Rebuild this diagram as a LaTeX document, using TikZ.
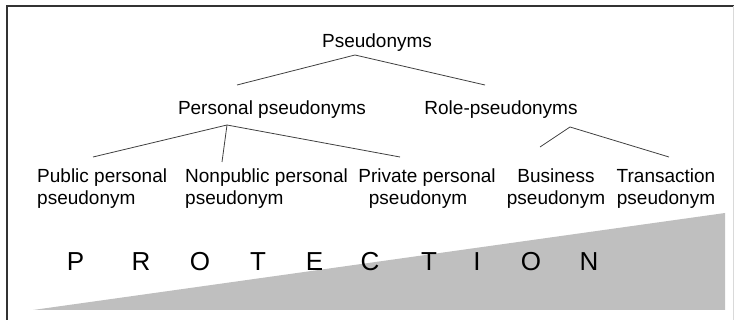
\documentclass[tikz,border=0pt]{standalone}
\usepackage{fontspec}
\setmainfont{Liberation Sans}
\begin{document}
\begin{tikzpicture}[x=1pt,y=-1pt,
  lbl/.style={inner sep=0pt, font=\fontsize{19}{22}\selectfont},
  prot/.style={inner sep=0pt, font=\fontsize{26}{26}\selectfont, anchor=base},
  conn/.style={draw=black!75, line width=0.8pt},
  frame/.style={draw=black!80, line width=1.4pt}]
\useasboundingbox (0,0) rectangle (734,320);
% frame
\draw[frame] (7,320) -- (7,6) -- (734,6);
\draw[black!15, line width=0.6pt] (733,6) -- (733,320);
% protection wedge
\fill[black!25] (33,310) -- (725,213) -- (725,310) -- cycle;
% labels
\node[lbl, anchor=base] (root) at (377,48) {Pseudonyms};
\node[lbl, anchor=base] (pers) at (272,115) {Personal pseudonyms};
\node[lbl, anchor=base] (role) at (501,115) {Role-pseudonyms};
\node[lbl, anchor=base west, align=left] (pub) at (37,205) {Public personal\\pseudonym};
\node[lbl, anchor=base west, align=left] (npub) at (185,205) {Nonpublic personal\\pseudonym};
\node[lbl, anchor=base, align=center] (priv) at (427,205) {Private personal\\pseudonym\hspace*{18pt}\null};
\node[lbl, anchor=base, align=center] (bus) at (556,205) {Business\\pseudonym};
\node[lbl, anchor=base, align=center] (tra) at (666,205) {Transaction\\pseudonym};
% connector points
\coordinate (a1) at (355,55);
\coordinate (a1l) at (237,85);
\coordinate (a1r) at (485,85);
\coordinate (a2) at (227,125);
\coordinate (a2l) at (93,157);
\coordinate (a2m) at (222,162);
\coordinate (a2r) at (400,157);
\coordinate (a3) at (570,127);
\coordinate (a3l) at (540,147);
\coordinate (a3r) at (669,157);
\draw[conn] (a1l) -- (a1) -- (a1r);
\draw[conn] (a2l) -- (a2) -- (a2r);
\draw[conn] (a2) -- (a2m);
\draw[conn] (a3l) -- (a3) -- (a3r);
% PROTECTION
\node[prot] (p1) at (75.5,271) {P};
\node[prot] (p2) at (141,271) {R};
\node[prot] (p3) at (200,271) {O};
\node[prot] (p4) at (258,271) {T};
\node[prot] (p5) at (314.5,271) {E};
\node[prot] (p6) at (370,271) {C};
\node[prot] (p7) at (429,271) {T};
\node[prot] (p8) at (477,271) {I};
\node[prot] (p9) at (531,271) {O};
\node[prot] (p10) at (589,271) {N};
\end{tikzpicture}
\end{document}
